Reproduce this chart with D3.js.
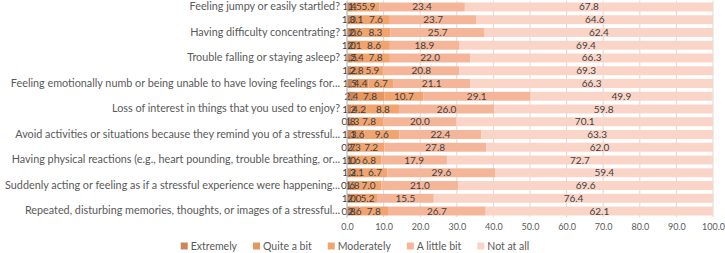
<!DOCTYPE html>
<html>
<head>
<meta charset="utf-8">
<script src="https://cdn.jsdelivr.net/npm/d3@7"></script>
<style>
  body { margin: 0; background: #fff; }
  svg { font-family: Lato, "Open Sans", sans-serif; }
</style>
</head>
<body>
<div id="chart"></div>
<script>
// items listed top to bottom, as drawn
const categories = [
    "Feeling jumpy or easily startled?",
    "Being \"super alert\" or watchful on guard?",
    "Having difficulty concentrating?",
    "Feeling irritable or having angry outbursts?",
    "Trouble falling or staying asleep?",
    "Feeling as if your future will somehow be cut short?",
    "Feeling emotionally numb or being unable to have loving feelings for...",
    "Feeling distant or cut off from other people?",
    "Loss of interest in things that you used to enjoy?",
    "Trouble remembering important parts of a stressful experience...",
    "Avoid activities or situations because they remind you of a stressful...",
    "Avoid thinking about or talking about a stressful experience...",
    "Having physical reactions (e.g., heart pounding, trouble breathing, or...",
    "Feeling very upset when something reminded you of a stressful...",
    "Suddenly acting or feeling as if a stressful experience were happening...",
    "Repeated, disturbing dreams of a stressful experience from the past?",
    "Repeated, disturbing memories, thoughts, or images of a stressful..."
];
const seriesNames = ["Extremely", "Quite a bit", "Moderately", "A little bit", "Not at all"];
const extremely  = [1.4, 1.0, 1.0, 1.0, 1.5, 1.2, 1.5, 2.4, 1.2, 0.8, 1.1, 0.7, 1.0, 1.2, 0.6, 1.0, 0.8];
const quiteABit  = [1.5, 3.1, 2.6, 2.1, 2.4, 2.8, 4.4, 7.8, 4.2, 1.3, 3.6, 2.3, 1.6, 3.1, 1.8, 2.0, 2.6];
const moderately = [5.9, 7.6, 8.3, 8.6, 7.8, 5.9, 6.7, 10.7, 8.8, 7.8, 9.6, 7.2, 6.8, 6.7, 7.0, 5.2, 7.8];
const aLittleBit = [23.4, 23.7, 25.7, 18.9, 22.0, 20.8, 21.1, 29.1, 26.0, 20.0, 22.4, 27.8, 17.9, 29.6, 21.0, 15.5, 26.7];
const notAtAll   = [67.8, 64.6, 62.4, 69.4, 66.3, 69.3, 66.3, 49.9, 59.8, 70.1, 63.3, 62.0, 72.7, 59.4, 69.6, 76.4, 62.1];
const xTicks = [0, 10, 20, 30, 40, 50, 60, 70, 80, 90, 100];

const colors = ["#cc8759", "#e8965f", "#f2a46f", "#f5b598", "#fad4c7"];

const rows = categories.map((c, i) => ({
    cat: c,
    "Extremely": extremely[i],
    "Quite a bit": quiteABit[i],
    "Moderately": moderately[i],
    "A little bit": aLittleBit[i],
    "Not at all": notAtAll[i]
}));

const width = 725, height = 253;
const plotLeft = 347, plotRight = 713, plotTop = 0.6, plotBottom = 217.4;

const svg = d3.select("#chart").append("svg")
    .attr("width", width)
    .attr("height", height);

const x = d3.scaleLinear().domain([0, 100]).range([plotLeft, plotRight]);
const y = d3.scaleBand().domain(categories).range([plotTop, plotBottom]).paddingInner(0.3).paddingOuter(0.15);
const color = d3.scaleOrdinal().domain(seriesNames).range(colors);

// gridlines
svg.append("g")
    .selectAll("line")
    .data(xTicks)
    .enter().append("line")
    .attr("x1", d => x(d)).attr("x2", d => x(d))
    .attr("y1", plotTop).attr("y2", plotBottom)
    .attr("stroke", "#d9d9d9")
    .attr("stroke-width", 1);

const stacked = d3.stack().keys(seriesNames)(rows);

const layers = svg.append("g").selectAll("g")
    .data(stacked)
    .enter().append("g")
    .attr("fill", d => color(d.key));

layers.selectAll("rect")
    .data(d => d)
    .enter().append("rect")
    .attr("x", d => x(d[0]))
    .attr("y", d => y(d.data.cat))
    .attr("width", d => x(d[1]) - x(d[0]))
    .attr("height", y.bandwidth());

// data labels
const fmt = d3.format(".1f");
svg.append("g").selectAll("g")
    .data(stacked)
    .enter().append("g")
    .selectAll("text")
    .data(d => d)
    .enter().append("text")
    .attr("x", d => (x(d[0]) + x(d[1])) / 2)
    .attr("y", d => y(d.data.cat) + y.bandwidth() / 2)
    .attr("dy", "0.35em")
    .attr("text-anchor", "middle")
    .attr("fill", "#404040")
    .style("font-size", "10px")
    .text(d => fmt(d[1] - d[0]));

// y axis line
svg.append("line")
    .attr("x1", x(0)).attr("x2", x(0))
    .attr("y1", plotTop).attr("y2", plotBottom)
    .attr("stroke", "#bfbfbf");

// category labels (every other one fits)
const yAxis = d3.axisLeft(y).tickSize(0).tickPadding(7)
    .tickFormat((d, i) => i % 2 === 0 ? d : "");
const yg = svg.append("g")
    .attr("transform", `translate(${x(0)},0)`)
    .call(yAxis);
yg.select(".domain").remove();
yg.selectAll("text").attr("fill", "#595959").style("font-size", "10.8px").style("font-family", "Lato, sans-serif");

// x axis labels
const xAxis = d3.axisBottom(x).tickValues(xTicks).tickSize(0).tickPadding(6)
    .tickFormat(d3.format(".1f"));
const xg = svg.append("g")
    .attr("transform", `translate(0,${plotBottom})`)
    .call(xAxis);
xg.select(".domain").remove();
xg.selectAll("text").attr("fill", "#595959").style("font-size", "9px").style("font-family", "Lato, sans-serif");

// legend
const legend = svg.append("g");
let lx = 0;
seriesNames.forEach(name => {
    const g = legend.append("g").attr("transform", `translate(${lx},0)`);
    g.append("rect")
        .attr("x", 0).attr("y", -3.5)
        .attr("width", 7).attr("height", 7)
        .attr("fill", color(name));
    const t = g.append("text")
        .attr("x", 10).attr("y", 0).attr("dy", "0.35em")
        .attr("fill", "#595959")
        .style("font-size", "10.5px")
        .text(name);
    lx += 10 + t.node().getComputedTextLength() + 16;
});
const legendW = lx - 16;
legend.attr("transform", `translate(${355 - legendW / 2},246)`);
</script>
</body>
</html>
